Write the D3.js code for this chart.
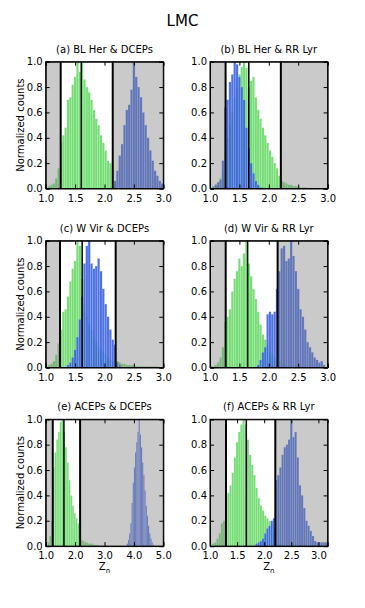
<!doctype html>
<html>
<head>
<meta charset="utf-8">
<script src="https://d3js.org/d3.v7.min.js"></script>
<style>
  body { margin: 0; background: #fff; }
  text { font-family: "DejaVu Sans", sans-serif; fill: #000; }
</style>
</head>
<body>
<svg width="365" height="608"></svg>
<script>

// ---- data ----
var panelTitles = ["(a) BL Her & DCEPs", "(b) BL Her & RR Lyr",
                   "(c) W Vir & DCEPs",  "(d) W Vir & RR Lyr",
                   "(e) ACEPs & DCEPs",  "(f) ACEPs & RR Lyr"];

var xDomains = [[1, 3], [1, 3], [1, 3], [1, 3], [1, 5], [1, 3.17]];
var xTickVals = [
  [1.0, 1.5, 2.0, 2.5, 3.0], [1.0, 1.5, 2.0, 2.5, 3.0],
  [1.0, 1.5, 2.0, 2.5, 3.0], [1.0, 1.5, 2.0, 2.5, 3.0],
  [1.0, 2.0, 3.0, 4.0, 5.0], [1.0, 1.5, 2.0, 2.5, 3.0]
];
var yTickVals = [0.0, 0.2, 0.4, 0.6, 0.8, 1.0];

// lower limit, middle, upper limit (black vertical lines)
var cuts = [
  [1.255, 1.605, 2.14], [1.265, 1.66, 2.205],
  [1.243, 1.62, 2.19],  [1.267, 1.64, 2.15],
  [1.24, 1.62, 2.17],   [1.295, 1.67, 2.205]
];

// green histograms (first group of each pair)
var greenStart = [1.00, 1.00, 1.00, 1.00, 1.00, 1.00];
var greenWidth = [0.04, 0.04, 0.04, 0.04, 0.06, 0.04];
var greenA = [0.01,0.02,0.03,0.04,0.08,0.16,0.36,0.42,0.48,0.70,0.72,0.82,0.88,1.00,0.92,1.00,
              0.86,0.80,0.76,0.70,0.62,0.55,0.50,0.42,0.36,0.30,0.22,0.20,0.16,0.04,0.02];
var greenB = [0.01,0.02,0.03,0.05,0.08,0.12,0.30,0.40,0.50,0.60,0.72,0.80,0.90,0.96,1.00,0.95,
              0.80,0.85,0.88,0.72,0.62,0.55,0.48,0.42,0.36,0.30,0.25,0.20,0.16,0.10,0.06,0.05,
              0.04,0.03,0.03,0.02,0.02,0.01,0.01,0.01,0.01];
var greenC = [0.01,0.02,0.03,0.05,0.10,0.19,0.30,0.44,0.46,0.56,0.68,0.78,0.84,1.00,0.96,0.70,
              0.50,0.40,0.34,0.30,0.24,0.20,0.16,0.14,0.12,0.10,0.08,0.06,0.05,0.05,0.05,0.04,
              0.03,0.03,0.02,0.02,0.02,0.02,0.01,0.01,0.01,0.01,0.01,0.01,0.01,0.01,0.01,0.01];
var greenD = [0.01,0.01,0.02,0.04,0.08,0.16,0.36,0.40,0.46,0.60,0.70,0.76,0.86,0.80,0.90,1.00,
              0.82,0.72,0.62,0.54,0.44,0.34,0.26,0.22,0.18,0.12,0.10,0.08,0.06,0.05,0.04,0.03,0.02];
var greenE = [0.01,0.03,0.08,0.20,0.62,0.74,0.84,0.90,0.98,1.00,0.90,0.78,0.66,0.52,0.40,0.32,
              0.26,0.22,0.18,0.08,0.05,0.04,0.03,0.03,0.02,0.02,0.02,0.01,0.01,0.01];
var greenF = [0.01,0.02,0.03,0.06,0.10,0.18,0.20,0.40,0.42,0.48,0.58,0.70,0.82,0.90,0.96,1.00,
              0.96,0.84,0.72,0.64,0.56,0.46,0.38,0.32,0.28,0.24,0.22,0.20,0.18,0.12,0.04,0.02,
              0.02,0.01];

// blue histograms (second group of each pair)
var blueStart = [2.16, 1.04, 1.36, 1.80, 3.76, 1.84];
var blueWidth = [0.04, 0.04, 0.04, 0.04, 0.04, 0.04];
var blueA = [0.06,0.14,0.26,0.35,0.50,0.62,0.66,0.78,1.00,0.88,0.80,0.72,0.60,0.50,0.40,0.30,
             0.22,0.14,0.10,0.06,0.04];
var blueB = [0.01,0.03,0.05,0.07,0.22,0.64,0.70,0.84,0.90,1.00,0.98,0.88,0.80,0.70,0.48,0.32,
             0.20,0.12,0.06,0.03,0.01];
var blueC = [0.02,0.04,0.08,0.14,0.24,0.38,0.56,0.82,0.96,1.00,0.82,0.78,0.80,0.86,0.76,0.62,
             0.50,0.40,0.30,0.22,0.18,0.04,0.02];
var blueD = [0.02,0.06,0.12,0.16,0.42,0.44,0.42,0.44,0.62,0.76,0.94,0.96,0.84,0.86,1.00,0.88,
             0.76,0.62,0.46,0.40,0.30,0.20,0.16,0.12,0.08,0.06,0.04,0.05,0.02];
var blueE = [0.02,0.05,0.10,0.18,0.34,0.50,0.62,0.74,0.82,0.90,1.00,0.88,0.78,0.66,0.56,0.44,
             0.32,0.24,0.16,0.10,0.06,0.03,0.01];
var blueF = [0.02,0.03,0.04,0.06,0.10,0.14,0.16,0.20,0.22,0.52,0.56,0.62,0.72,0.78,0.80,0.84,
             1.00,0.86,0.90,0.70,0.48,0.40,0.30,0.20,0.16,0.12,0.08,0.04,0.03,0.03,0.03,0.03,0.03];

var greens = [greenA, greenB, greenC, greenD, greenE, greenF];
var blues  = [blueA, blueB, blueC, blueD, blueE, blueF];

// ---- layout ----
var svg = d3.select("svg");
var colX = [45.7, 210];
var rowY = [61.7, 240.7, 419.3];
var pw = 117.6, ph = 126.8;

svg.append("text")
   .attr("x", 182.5)
   .attr("y", 26)
   .attr("text-anchor", "middle")
   .attr("font-size", "15px")
   .text("LMC");

function bins(values, start, w) {
    return values.map(function(v, i) {
        return {x0: start + i * w, x1: start + (i + 1) * w, y: v};
    });
}

panelTitles.forEach(function(title, p) {
    var col = p % 2, row = Math.floor(p / 2);
    var g = svg.append("g")
               .attr("transform", "translate(" + colX[col] + "," + rowY[row] + ")");

    var x = d3.scaleLinear().domain(xDomains[p]).range([0, pw]);
    var y = d3.scaleLinear().domain([0, 1]).range([ph, 0]);

    g.append("clipPath").attr("id", "clip" + p)
     .append("rect").attr("width", pw).attr("height", ph);

    var plot = g.append("g").attr("clip-path", "url(#clip" + p + ")");

    // green bars
    plot.selectAll(".gbar")
        .data(bins(greens[p], greenStart[p], greenWidth[p]))
        .enter().append("rect")
        .attr("x", function(d) { return x(d.x0); })
        .attr("y", function(d) { return y(d.y); })
        .attr("width", function(d) { return x(d.x1) - x(d.x0); })
        .attr("height", function(d) { return ph - y(d.y); })
        .attr("fill", "#32cd32")
        .attr("fill-opacity", 0.68)
        .attr("stroke", "#ffffff")
        .attr("stroke-opacity", 0.35)
        .attr("stroke-width", 0.5);

    // blue bars
    plot.selectAll(".bbar")
        .data(bins(blues[p], blueStart[p], blueWidth[p]))
        .enter().append("rect")
        .attr("x", function(d) { return x(d.x0); })
        .attr("y", function(d) { return y(d.y); })
        .attr("width", function(d) { return x(d.x1) - x(d.x0); })
        .attr("height", function(d) { return ph - y(d.y); })
        .attr("fill", "#3a62e0")
        .attr("fill-opacity", 0.9)
        .attr("stroke", "#ffffff")
        .attr("stroke-opacity", 0.25)
        .attr("stroke-width", 0.5);

    // grey shading outside the limits, drawn over the bars
    var c = cuts[p];
    plot.append("rect")
        .attr("x", 0).attr("y", 0)
        .attr("width", x(c[0]))
        .attr("height", ph)
        .attr("fill", "#808080").attr("fill-opacity", 0.42);
    plot.append("rect")
        .attr("x", x(c[2])).attr("y", 0)
        .attr("width", pw - x(c[2]))
        .attr("height", ph)
        .attr("fill", "#808080").attr("fill-opacity", 0.42);

    // black vertical lines
    g.selectAll(".cut")
     .data(c)
     .enter().append("line")
     .attr("x1", function(d) { return x(d); })
     .attr("x2", function(d) { return x(d); })
     .attr("y1", 0).attr("y2", ph)
     .attr("stroke", "#000")
     .attr("stroke-width", function(d, i) { return i === 1 ? 1.5 : 2; });

    // axes: ticks inward on all sides
    var tickLen = 4;
    g.append("g")
     .attr("transform", "translate(0," + ph + ")")
     .call(d3.axisBottom(x).tickValues(xTickVals[p]).tickSize(-tickLen).tickPadding(6)
             .tickFormat(d3.format(".1f")));
    g.append("g")
     .call(d3.axisTop(x).tickValues(xTickVals[p]).tickSize(-tickLen).tickFormat(""));
    g.append("g")
     .call(d3.axisLeft(y).tickValues(yTickVals).tickSize(-tickLen).tickPadding(3)
             .tickFormat(d3.format(".1f")));
    g.append("g")
     .attr("transform", "translate(" + pw + ",0)")
     .call(d3.axisRight(y).tickValues(yTickVals).tickSize(-tickLen).tickFormat(""));

    g.selectAll(".domain").attr("stroke", "#000").attr("stroke-width", 1);
    g.selectAll(".tick line").attr("stroke", "#000");
    g.selectAll(".tick text").attr("font-size", "10px").attr("fill", "#000")
     .style("font-family", "DejaVu Sans, sans-serif");

    g.append("rect")
     .attr("width", pw).attr("height", ph)
     .attr("fill", "none").attr("stroke", "#000").attr("stroke-width", 1);

    // panel title
    g.append("text")
     .attr("x", pw / 2)
     .attr("y", -9)
     .attr("text-anchor", "middle")
     .attr("font-size", "10px")
     .text(title);

    if (col === 0) {
        g.append("text")
         .attr("transform", "translate(-22," + (ph / 2) + ") rotate(-90)")
         .attr("text-anchor", "middle")
         .attr("font-size", "10px")
         .text("Normalized counts");
    }
    if (row === 2) {
        var lab = g.append("text")
         .attr("x", pw / 2)
         .attr("y", ph + 24)
         .attr("text-anchor", "middle")
         .attr("font-size", "10px");
        lab.append("tspan").text("Z");
        lab.append("tspan").attr("font-size", "7px").attr("dy", 2.5).text("n");
    }
});

</script>
</body>
</html>
